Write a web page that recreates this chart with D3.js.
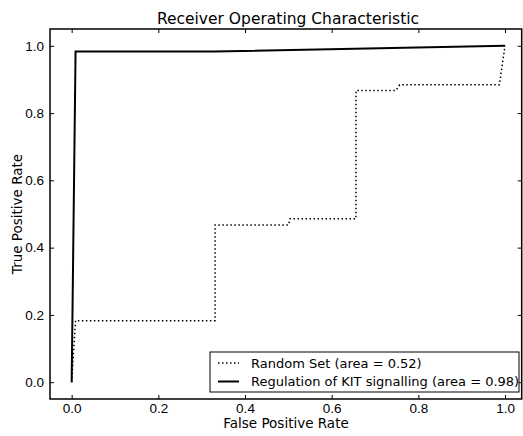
<!DOCTYPE html>
<html>
<head>
<meta charset="utf-8">
<script src="https://cdn.jsdelivr.net/npm/d3@7"></script>
<style>
    body { margin: 0; background: #fff; }
    svg { font-family: "DejaVu Sans", sans-serif; }
</style>
</head>
<body>
<div id="chart"></div>
<script>
// ROC curves
let randomFpr = [0, 0.009, 0.331, 0.331, 0.5, 0.504, 0.656, 0.656, 0.748, 0.757, 0.987, 1.0];
let randomTpr = [0, 0.183, 0.183, 0.467, 0.467, 0.486, 0.486, 0.867, 0.867, 0.884, 0.884, 1.0];
let kitFpr = [0, 0.009, 0.33, 1.0];
let kitTpr = [0, 0.983, 0.983, 1.0];
let seriesNames = ["Random Set (area = 0.52)", "Regulation of KIT signalling (area = 0.98)"];
let tickValues = [0, 0.2, 0.4, 0.6, 0.8, 1.0];

let width = 523, height = 436;
let margin = {top: 29, right: 1.3, bottom: 37, left: 50};
let innerW = width - margin.left - margin.right;
let innerH = height - margin.top - margin.bottom;

let svg = d3.select("#chart").append("svg")
    .attr("width", width)
    .attr("height", height);

let g = svg.append("g")
    .attr("transform", "translate(" + margin.left + "," + margin.top + ")");

let x = d3.scaleLinear().domain([-0.05, 1.0385]).range([0, innerW]);
let y = d3.scaleLinear().domain([-0.05, 1.05]).range([innerH, 0]);

// ticks on all four sides, pointing inward
let fmt = d3.format(".1f");
let tickLen = 4;
g.append("g").attr("transform", "translate(0," + innerH + ")")
    .call(d3.axisBottom(x).tickValues(tickValues).tickFormat(fmt).tickSizeInner(-tickLen).tickSizeOuter(0).tickPadding(4));
g.append("g")
    .call(d3.axisTop(x).tickValues(tickValues).tickFormat("").tickSizeInner(-tickLen).tickSizeOuter(0));
g.append("g")
    .call(d3.axisLeft(y).tickValues(tickValues).tickFormat(fmt).tickSizeInner(-tickLen).tickSizeOuter(0).tickPadding(6));
g.append("g").attr("transform", "translate(" + innerW + ",0)")
    .call(d3.axisRight(y).tickValues(tickValues).tickFormat("").tickSizeInner(-tickLen).tickSizeOuter(0));

g.selectAll(".domain").remove();
g.selectAll(".tick line").attr("stroke", "#000").attr("stroke-width", 1);
g.selectAll(".tick text").attr("fill", "#000").style("font-size", "13.5px");

// lines
let line = d3.line().x(d => x(d[0])).y(d => y(d[1]));

g.append("path")
    .datum(d3.zip(randomFpr, randomTpr))
    .attr("d", line)
    .attr("fill", "none")
    .attr("stroke", "#000")
    .attr("stroke-width", 1.5)
    .attr("stroke-dasharray", "1.5,2.5");

g.append("path")
    .datum(d3.zip(kitFpr, kitTpr))
    .attr("d", line)
    .attr("fill", "none")
    .attr("stroke", "#000")
    .attr("stroke-width", 2);

// frame
g.append("rect")
    .attr("width", innerW)
    .attr("height", innerH)
    .attr("fill", "none")
    .attr("stroke", "#000")
    .attr("stroke-width", 1.5);

// legend
let legend = svg.append("g").attr("transform", "translate(210,352)");
legend.append("rect")
    .attr("width", 309)
    .attr("height", 40)
    .attr("fill", "#fff")
    .attr("stroke", "#000")
    .attr("stroke-width", 1);

seriesNames.forEach(function(name, i) {
    let yy = 11 + i * 18.5;
    legend.append("line")
        .attr("x1", 8).attr("x2", 29)
        .attr("y1", yy).attr("y2", yy)
        .attr("stroke", "#000")
        .attr("stroke-width", i === 0 ? 1.5 : 2)
        .attr("stroke-dasharray", i === 0 ? "1.5,2.5" : null);
    legend.append("text")
        .attr("x", 41).attr("y", yy)
        .attr("dy", "0.35em")
        .style("font-size", "13px")
        .text(name);
});

// title and axis labels
svg.append("text")
    .attr("x", 288).attr("y", 19)
    .attr("dy", "0.35em")
    .attr("text-anchor", "middle")
    .style("font-size", "15.5px")
    .text("Receiver Operating Characteristic");

svg.append("text")
    .attr("x", 286).attr("y", 423.5)
    .attr("dy", "0.35em")
    .attr("text-anchor", "middle")
    .style("font-size", "13.5px")
    .text("False Positive Rate");

svg.append("text")
    .attr("transform", "translate(17," + (margin.top + innerH / 2) + ") rotate(-90)")
    .attr("dy", "0.35em")
    .attr("text-anchor", "middle")
    .style("font-size", "13.5px")
    .text("True Positive Rate");
</script>
</body>
</html>
